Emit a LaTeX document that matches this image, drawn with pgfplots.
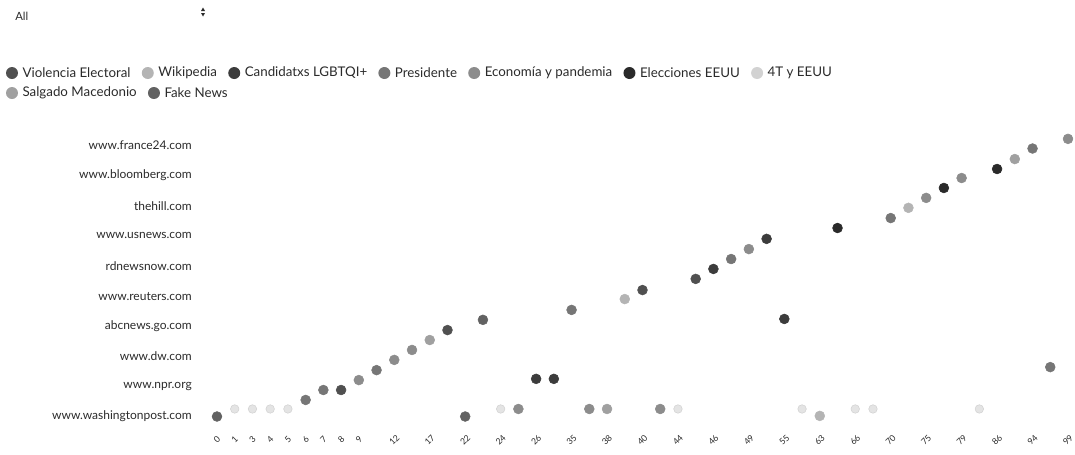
\documentclass[border=0pt]{standalone}
\usepackage{pgfplots}
\pgfplotsset{compat=1.18}
\usepackage{fontspec}
\setmainfont{Lato}
\usetikzlibrary{positioning}

\definecolor{cViol}{HTML}{505050}
\definecolor{cWiki}{HTML}{B4B4B4}
\definecolor{cLGBT}{HTML}{3C3C3C}
\definecolor{cPres}{HTML}{767676}
\definecolor{cEcon}{HTML}{8C8C8C}
\definecolor{cElec}{HTML}{2A2A2A}
\definecolor{c4T}{HTML}{D2D2D2}
\definecolor{cSalg}{HTML}{A0A0A0}
\definecolor{cFake}{HTML}{626262}
\definecolor{txt}{HTML}{2A2A2A}

\begin{document}
\begin{tikzpicture}
\useasboundingbox (0,0) rectangle (806.25pt,-340.5pt);

% selector
\begin{scope}[x=0.75pt,y=-0.75pt]
\node[anchor=west, inner sep=0pt, font=\fontsize{8.5}{9}\selectfont, text=txt] at (15,16) {All};
\fill[txt] (201,11) -- (205,11) -- (203,7.5) -- cycle;
\fill[txt] (201,13) -- (205,13) -- (203,16.5) -- cycle;

% legend
\tikzset{lm/.style={circle, inner sep=0pt, minimum size=9pt, fill=#1},
         lt/.style={inner sep=0pt, font=\fontsize{10}{12}\selectfont, text=txt, anchor=west}}
\node[lm=cViol] (m1) at (12,73) {};
\node[lt, right=3pt of m1] (t1) {Violencia Electoral};
\node[lm=cWiki, right=8pt of t1] (m2) {};
\node[lt, right=3pt of m2] (t2) {Wikipedia};
\node[lm=cLGBT, right=8pt of t2] (m3) {};
\node[lt, right=3pt of m3] (t3) {Candidatxs LGBTQI+};
\node[lm=cPres, right=8pt of t3] (m4) {};
\node[lt, right=3pt of m4] (t4) {Presidente};
\node[lm=cEcon, right=8pt of t4] (m5) {};
\node[lt, right=3pt of m5] (t5) {Economía y pandemia};
\node[lm=cElec, right=8pt of t5] (m6) {};
\node[lt, right=3pt of m6] (t6) {Elecciones EEUU};
\node[lm=c4T, right=8pt of t6] (m7) {};
\node[lt, right=3pt of m7] (t7) {4T y EEUU};
\node[lm=cSalg] (m8) at (12,93) {};
\node[lt, right=3pt of m8] (t8) {Salgado Macedonio};
\node[lm=cFake, right=8pt of t8] (m9) {};
\node[lt, right=3pt of m9] (t9) {Fake News};
\end{scope}

\begin{axis}[
    at={(217*0.75pt,-416.5*0.75pt)}, anchor=south west,
    scale only axis,
    width=638.25pt, height=203.25pt,
    xmin=0, xmax=48, ymin=0, ymax=9,
    enlargelimits=false,
    clip=false,
    axis x line*=bottom, axis y line*=left,
    axis line style={draw=none},
    major tick length=0pt,
    xtick={0,1,2,3,4,5,6,7,8,10,12,...,48},
    xticklabels={0,1,3,4,5,6,7,8,9,12,17,22,24,26,35,38,40,44,46,49,55,63,66,70,75,79,86,94,99},
    xticklabel shift=17.6pt,
    xticklabel style={font=\fontsize{6.5}{6.5}\selectfont, text=txt, rotate=45, anchor=center, inner sep=0pt},
    ytick={0,...,9},
    yticklabels={www.washingtonpost.com, www.npr.org, www.dw.com, abcnews.go.com, www.reuters.com, rdnewsnow.com, www.usnews.com, thehill.com, www.bloomberg.com, www.france24.com},
    yticklabel style={font=\fontsize{9}{10}\selectfont, text=txt, anchor=east, inner sep=0pt},
    yticklabel shift=18.75pt,
    every axis plot/.append style={only marks, mark=*, mark size=3.7pt},
]
% Violencia Electoral
\addplot[cViol, mark options={fill=cViol, draw=cViol}] coordinates {(7,0.88) (13,2.87) (24,4.20) (27,4.57)};
% Wikipedia
\addplot[cWiki, mark options={fill=cWiki, draw=cWiki}] coordinates {(23,3.90) (34,0.02) (39,6.93)};
% Candidatxs LGBTQI+
\addplot[cLGBT, mark options={fill=cLGBT, draw=cLGBT}] coordinates {(18,1.25) (19,1.25) (28,4.90) (31,5.90) (32,3.24)};
% Presidente
\addplot[cPres, mark options={fill=cPres, draw=cPres}] coordinates {(5,0.55) (6,0.88) (9,1.54) (20,3.54) (29,5.23) (38,6.59) (46,8.90) (47,1.64)};
% Economia y pandemia
\addplot[cEcon, mark options={fill=cEcon, draw=cEcon}] coordinates {(8,1.21) (10,1.88) (11,2.21) (17,0.25) (21,0.25) (25,0.25) (30,5.56) (40,7.26) (42,7.92) (48,9.22)};
% Elecciones EEUU
\addplot[cElec, mark options={fill=cElec, draw=cElec}] coordinates {(35,6.26) (41,7.59) (44,8.22)};
% 4T y EEUU
\addplot[c4T, mark options={fill=c4T!60!white, draw=c4T}, mark size=3.2pt] coordinates {(1,0.25) (2,0.25) (3,0.25) (4,0.25) (16,0.25) (26,0.25) (33,0.25) (36,0.25) (37,0.25) (43,0.25)};
% Salgado Macedonio
\addplot[cSalg, mark options={fill=cSalg, draw=cSalg}] coordinates {(12,2.54) (22,0.25) (45,8.55)};
% Fake News
\addplot[cFake, mark options={fill=cFake, draw=cFake}] coordinates {(0,0) (14,0) (15,3.21)};
\end{axis}
\end{tikzpicture}
\end{document}
